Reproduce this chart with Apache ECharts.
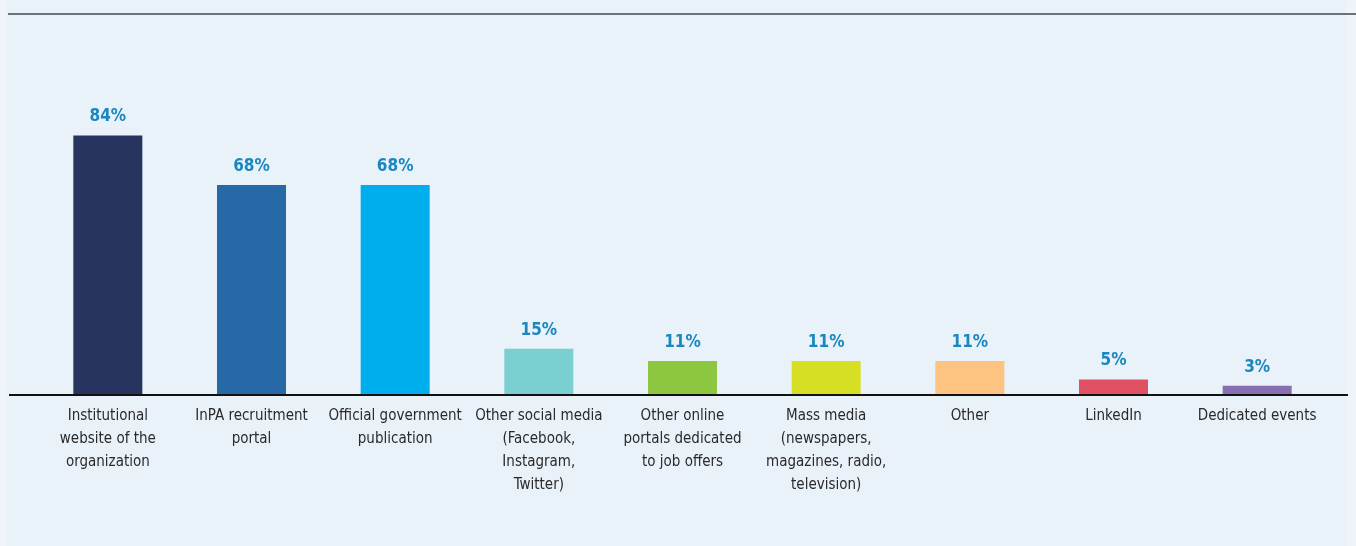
<!DOCTYPE html>
<html>
<head>
<meta charset="utf-8">
<style>
  html, body { margin: 0; padding: 0; background: #EEF4FA; }
  #chart { width: 1356px; height: 546px; }
</style>
<script src="https://cdn.jsdelivr.net/npm/echarts@6/dist/echarts.min.js"></script>
</head>
<body>
<div id="chart"></div>
<script>
// Recruitment channels used, share of organizations (%)
const categories = [
  'Institutional\nwebsite of the\norganization',
  'InPA recruitment\nportal',
  'Official government\npublication',
  'Other social media\n(Facebook,\nInstagram,\nTwitter)',
  'Other online\nportals dedicated\nto job offers',
  'Mass media\n(newspapers,\nmagazines, radio,\ntelevision)',
  'Other',
  'LinkedIn',
  'Dedicated events'
];
const shares = [84, 68, 68, 15, 11, 11, 11, 5, 3];
const barColors = ['#27345F', '#2769A7', '#00AEEE', '#7ACFD1', '#8DC63F', '#D6DF23', '#FDC381', '#E05263', '#866EB1'];

const FONT = "'DejaVu Sans Condensed', 'Liberation Sans Narrow', sans-serif";
const W = 1356, H = 546;
const GRID_TOP = 86, GRID_BOTTOM = 151, GRID_LEFT = 36, GRID_RIGHT = 27;
const AXIS_Y = H - GRID_BOTTOM;

const chart = echarts.init(document.getElementById('chart'), null, { renderer: 'canvas' });
chart.setOption({
  backgroundColor: '#EEF4FA',
  animation: false,
  graphic: [
    { type: 'rect', z: -10, shape: { x: 7, y: 0, width: 1339, height: H }, style: { fill: '#E9F1F9' } },
    { type: 'rect', z: -9, shape: { x: 8, y: 13, width: W - 8, height: 2 }, style: { fill: '#6C7279' } },
    { type: 'rect', z: 10, shape: { x: 9, y: AXIS_Y - 1, width: 1339, height: 2 }, style: { fill: '#111111' } }
  ],
  grid: { left: GRID_LEFT, right: GRID_RIGHT, top: GRID_TOP, bottom: GRID_BOTTOM, containLabel: false },
  xAxis: {
    type: 'category',
    data: categories,
    axisLine: { show: false },
    axisTick: { show: false },
    axisLabel: {
      interval: 0,
      margin: 10,
      color: '#2A2A2A',
      fontFamily: FONT,
      fontSize: 15,
      lineHeight: 23,
      verticalAlign: 'top'
    }
  },
  yAxis: {
    type: 'value',
    min: 0,
    max: 100,
    show: false,
    splitLine: { show: false }
  },
  series: [{
    type: 'bar',
    data: shares.map((v, i) => ({ value: v, itemStyle: { color: barColors[i] } })),
    barWidth: 69,
    label: {
      show: true,
      position: 'top',
      distance: 10,
      formatter: '{c}%',
      color: '#1A87BF',
      fontFamily: FONT,
      fontWeight: 'bold',
      fontSize: 17
    }
  }]
});
</script>
</body>
</html>
